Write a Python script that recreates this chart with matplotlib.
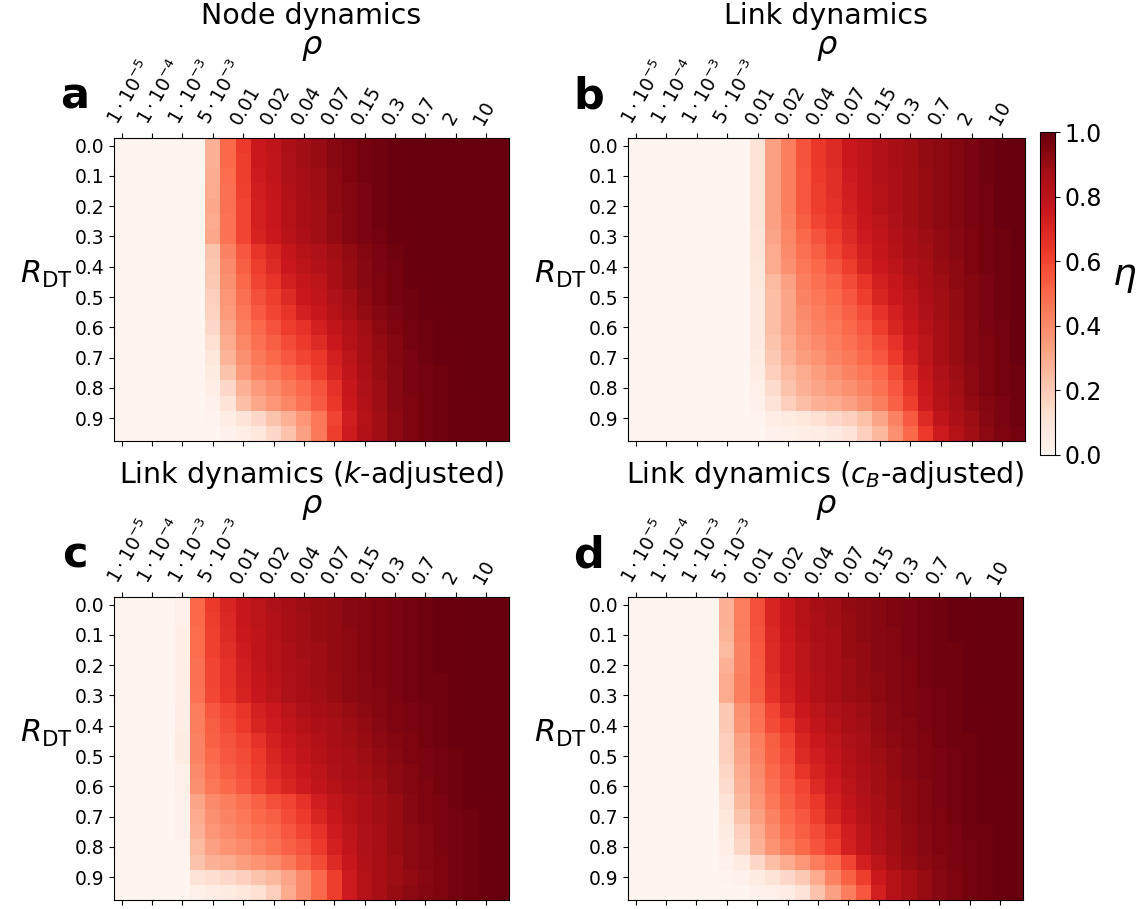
import numpy as np
import matplotlib
matplotlib.use("Agg")
import matplotlib.pyplot as plt

# =============================
# Data (eta, 20 R_DT rows x 26 rho columns)
# =============================

rho_labels = [r"$1\cdot10^{-5}$", r"$1\cdot10^{-4}$", r"$1\cdot10^{-3}$", r"$5\cdot10^{-3}$",
              "0.01", "0.02", "0.04", "0.07", "0.15", "0.3", "0.7", "2", "10"]
rdt_labels = ["0.0", "0.1", "0.2", "0.3", "0.4", "0.5", "0.6", "0.7", "0.8", "0.9"]

titles = ["Node dynamics", "Link dynamics",
          r"Link dynamics ($k$-adjusted)", r"Link dynamics ($c_B$-adjusted)"]
letters = ["a", "b", "c", "d"]

eta_node = [
    [0, 0, 0, 0, 0, 0, .28, .50, .63, .75, .79, .85, .88, .90, .93, .95, .97, .98, .99, 1, 1, 1, 1, 1, 1, 1],
    [0, 0, 0, 0, 0, 0, .28, .50, .62, .75, .78, .84, .88, .90, .93, .95, .97, .98, .99, 1, 1, 1, 1, 1, 1, 1],
    [0, 0, 0, 0, 0, 0, .29, .49, .62, .74, .78, .84, .87, .89, .92, .95, .97, .98, .99, 1, 1, 1, 1, 1, 1, 1],
    [0, 0, 0, 0, 0, 0, .30, .48, .61, .73, .77, .83, .87, .89, .92, .94, .96, .98, .99, 1, 1, 1, 1, 1, 1, 1],
    [0, 0, 0, 0, 0, 0, .31, .48, .60, .72, .76, .82, .86, .88, .92, .94, .96, .98, .99, 1, 1, 1, 1, 1, 1, 1],
    [0, 0, 0, 0, 0, 0, .30, .47, .60, .72, .76, .82, .86, .88, .91, .94, .96, .98, .99, .99, 1, 1, 1, 1, 1, 1],
    [0, 0, 0, 0, 0, 0, .31, .47, .60, .71, .75, .81, .85, .88, .91, .94, .96, .97, .99, .99, 1, 1, 1, 1, 1, 1],
    [0, 0, 0, 0, 0, 0, .22, .42, .55, .65, .70, .77, .82, .84, .88, .91, .94, .96, .98, .99, 1, 1, 1, 1, 1, 1],
    [0, 0, 0, 0, 0, 0, .21, .40, .53, .62, .68, .75, .80, .83, .87, .90, .93, .96, .97, .99, 1, 1, 1, 1, 1, 1],
    [0, 0, 0, 0, 0, 0, .20, .38, .50, .60, .65, .72, .77, .80, .86, .90, .93, .95, .97, .99, .99, 1, 1, 1, 1, 1],
    [0, 0, 0, 0, 0, 0, .18, .36, .48, .57, .62, .68, .75, .78, .84, .88, .92, .95, .97, .98, .99, 1, 1, 1, 1, 1],
    [0, 0, 0, 0, 0, 0, .17, .35, .46, .54, .60, .65, .72, .76, .82, .87, .91, .94, .96, .98, .99, .99, 1, 1, 1, 1],
    [0, 0, 0, 0, 0, 0, .15, .32, .43, .50, .56, .62, .66, .72, .78, .83, .88, .92, .95, .97, .98, .99, 1, 1, 1, 1],
    [0, 0, 0, 0, 0, 0, .12, .30, .41, .48, .53, .58, .63, .68, .75, .82, .87, .91, .94, .97, .98, .99, .99, 1, 1, 1],
    [0, 0, 0, 0, 0, 0, .08, .27, .38, .45, .50, .55, .60, .64, .72, .80, .86, .90, .94, .96, .98, .99, .99, 1, 1, 1],
    [0, 0, 0, 0, 0, 0, .06, .22, .35, .42, .46, .50, .55, .62, .70, .78, .85, .90, .93, .96, .97, .98, .99, 1, 1, 1],
    [0, 0, 0, 0, 0, 0, .04, .15, .28, .35, .40, .45, .50, .56, .66, .76, .84, .89, .93, .96, .97, .98, .99, 1, 1, 1],
    [0, 0, 0, 0, 0, 0, .02, .10, .24, .31, .36, .41, .47, .54, .64, .75, .83, .89, .93, .95, .97, .98, .99, .99, 1, 1],
    [0, 0, 0, 0, 0, 0, .01, .05, .10, .15, .22, .28, .36, .46, .60, .73, .82, .88, .92, .95, .97, .98, .99, .99, 1, 1],
    [0, 0, 0, 0, 0, 0, 0, .02, .04, .08, .15, .22, .33, .45, .62, .74, .83, .88, .92, .95, .97, .98, .99, .99, 1, 1],
]

eta_link = [
    [0, 0, 0, 0, 0, 0, 0, 0, .10, .33, .43, .56, .64, .68, .75, .79, .83, .86, .88, .91, .92, .94, .96, .98, .99, 1],
    [0, 0, 0, 0, 0, 0, 0, 0, .10, .33, .43, .56, .64, .68, .75, .79, .83, .86, .88, .91, .92, .94, .96, .98, .99, 1],
    [0, 0, 0, 0, 0, 0, 0, 0, .10, .33, .43, .55, .63, .67, .74, .78, .83, .85, .88, .90, .92, .94, .96, .98, .99, 1],
    [0, 0, 0, 0, 0, 0, 0, 0, .10, .33, .43, .55, .62, .67, .73, .78, .82, .85, .88, .90, .92, .94, .96, .97, .99, 1],
    [0, 0, 0, 0, 0, 0, 0, 0, .10, .33, .43, .55, .62, .66, .72, .77, .82, .85, .88, .90, .92, .94, .96, .97, .99, 1],
    [0, 0, 0, 0, 0, 0, 0, 0, .10, .33, .42, .53, .60, .65, .70, .76, .80, .84, .88, .90, .92, .94, .96, .97, .99, 1],
    [0, 0, 0, 0, 0, 0, 0, 0, .09, .32, .41, .50, .56, .62, .68, .74, .78, .83, .87, .89, .91, .93, .95, .97, .98, 1],
    [0, 0, 0, 0, 0, 0, 0, 0, .09, .30, .40, .48, .53, .60, .66, .72, .77, .82, .86, .88, .91, .93, .95, .97, .98, .99],
    [0, 0, 0, 0, 0, 0, 0, 0, .08, .30, .38, .46, .50, .56, .62, .70, .75, .80, .84, .87, .90, .92, .95, .97, .98, .99],
    [0, 0, 0, 0, 0, 0, 0, 0, .08, .25, .33, .43, .48, .52, .58, .65, .72, .77, .82, .86, .89, .92, .94, .96, .98, .99],
    [0, 0, 0, 0, 0, 0, 0, 0, .07, .24, .32, .42, .46, .50, .55, .62, .70, .75, .80, .85, .88, .91, .94, .96, .98, .99],
    [0, 0, 0, 0, 0, 0, 0, 0, .07, .24, .32, .40, .44, .48, .52, .58, .66, .72, .78, .84, .88, .91, .94, .96, .98, .99],
    [0, 0, 0, 0, 0, 0, 0, 0, .07, .24, .32, .38, .42, .46, .50, .55, .62, .70, .76, .82, .87, .90, .93, .96, .97, .99],
    [0, 0, 0, 0, 0, 0, 0, 0, .07, .22, .30, .36, .40, .44, .48, .52, .58, .66, .74, .80, .86, .90, .93, .95, .97, .99],
    [0, 0, 0, 0, 0, 0, 0, 0, .06, .20, .28, .34, .37, .42, .45, .50, .55, .63, .72, .80, .86, .90, .93, .95, .97, .99],
    [0, 0, 0, 0, 0, 0, 0, 0, .05, .18, .25, .30, .34, .38, .42, .46, .50, .58, .68, .77, .84, .89, .92, .95, .97, .98],
    [0, 0, 0, 0, 0, 0, 0, 0, .03, .14, .22, .28, .32, .35, .38, .42, .47, .55, .65, .75, .83, .88, .92, .95, .97, .98],
    [0, 0, 0, 0, 0, 0, 0, 0, .02, .10, .18, .24, .28, .30, .33, .38, .43, .52, .62, .74, .82, .87, .91, .94, .96, .98],
    [0, 0, 0, 0, 0, 0, 0, 0, .01, .04, .06, .08, .12, .15, .18, .23, .32, .42, .54, .68, .79, .85, .89, .93, .96, .98],
    [0, 0, 0, 0, 0, 0, 0, 0, 0, .02, .03, .04, .05, .07, .10, .18, .26, .38, .50, .63, .74, .82, .88, .92, .95, .97],
]

eta_link_k = [
    [0, 0, 0, 0, .03, .50, .63, .70, .76, .80, .84, .87, .89, .90, .91, .93, .94, .95, .96, .97, .98, .99, .99, 1, 1, 1],
    [0, 0, 0, 0, .03, .50, .62, .69, .76, .80, .83, .86, .88, .90, .91, .93, .94, .95, .96, .97, .98, .99, .99, 1, 1, 1],
    [0, 0, 0, 0, .04, .49, .61, .68, .75, .79, .83, .86, .88, .90, .91, .92, .94, .95, .96, .97, .98, .99, .99, 1, 1, 1],
    [0, 0, 0, 0, .04, .49, .61, .67, .74, .79, .82, .85, .88, .89, .91, .92, .94, .95, .96, .97, .98, .99, .99, 1, 1, 1],
    [0, 0, 0, 0, .04, .48, .60, .66, .73, .78, .82, .85, .87, .89, .91, .92, .94, .95, .96, .97, .98, .99, .99, 1, 1, 1],
    [0, 0, 0, 0, .04, .48, .60, .66, .72, .77, .81, .84, .87, .89, .90, .92, .93, .95, .96, .97, .98, .98, .99, 1, 1, 1],
    [0, 0, 0, 0, .04, .47, .59, .65, .71, .76, .80, .84, .86, .88, .90, .92, .93, .94, .96, .97, .98, .98, .99, 1, 1, 1],
    [0, 0, 0, 0, .05, .44, .55, .60, .65, .72, .75, .80, .84, .86, .88, .90, .92, .94, .95, .96, .97, .98, .99, 1, 1, 1],
    [0, 0, 0, 0, .05, .43, .53, .58, .63, .70, .74, .78, .82, .85, .87, .89, .91, .93, .95, .96, .97, .98, .99, .99, 1, 1],
    [0, 0, 0, 0, .06, .42, .52, .56, .60, .66, .72, .76, .80, .83, .86, .88, .90, .92, .94, .95, .97, .98, .99, .99, 1, 1],
    [0, 0, 0, 0, .06, .42, .50, .55, .58, .63, .70, .74, .78, .82, .85, .87, .89, .91, .93, .95, .96, .97, .98, .99, 1, 1],
    [0, 0, 0, 0, .03, .40, .48, .53, .57, .62, .68, .72, .76, .80, .84, .86, .88, .90, .92, .94, .96, .97, .98, .99, 1, 1],
    [0, 0, 0, 0, .03, .38, .46, .50, .55, .60, .66, .70, .74, .78, .82, .85, .87, .89, .92, .94, .95, .97, .98, .99, 1, 1],
    [0, 0, 0, 0, .02, .32, .40, .43, .48, .52, .57, .60, .66, .73, .78, .82, .85, .88, .90, .93, .95, .96, .98, .99, .99, 1],
    [0, 0, 0, 0, .02, .30, .38, .42, .46, .50, .53, .58, .63, .70, .76, .82, .85, .88, .90, .93, .95, .96, .97, .98, .99, 1],
    [0, 0, 0, 0, .02, .28, .36, .40, .43, .47, .50, .55, .60, .66, .74, .80, .84, .87, .90, .92, .94, .96, .97, .98, .99, 1],
    [0, 0, 0, 0, .01, .25, .33, .37, .40, .44, .48, .52, .56, .63, .72, .78, .84, .87, .90, .92, .94, .96, .97, .98, .99, 1],
    [0, 0, 0, 0, .01, .22, .28, .30, .34, .37, .40, .45, .52, .58, .68, .76, .83, .86, .89, .92, .94, .95, .97, .98, .99, 1],
    [0, 0, 0, 0, 0, .10, .13, .15, .18, .22, .26, .32, .40, .50, .62, .74, .82, .86, .89, .91, .93, .95, .97, .98, .99, 1],
    [0, 0, 0, 0, 0, .03, .05, .06, .08, .12, .18, .30, .40, .50, .62, .74, .82, .86, .90, .92, .94, .95, .97, .98, .99, 1],
]

eta_link_cb = [
    [0, 0, 0, 0, 0, 0, .28, .44, .57, .70, .76, .82, .86, .88, .91, .92, .93, .95, .96, .97, .98, .99, .99, 1, 1, 1],
    [0, 0, 0, 0, 0, 0, .28, .44, .57, .70, .76, .82, .85, .88, .90, .92, .93, .95, .96, .97, .98, .99, .99, 1, 1, 1],
    [0, 0, 0, 0, 0, 0, .27, .43, .56, .69, .75, .81, .85, .87, .90, .92, .93, .94, .96, .97, .98, .99, .99, 1, 1, 1],
    [0, 0, 0, 0, 0, 0, .25, .42, .55, .68, .74, .80, .84, .87, .90, .91, .93, .94, .96, .97, .98, .98, .99, 1, 1, 1],
    [0, 0, 0, 0, 0, 0, .28, .42, .54, .68, .74, .80, .84, .87, .89, .91, .93, .94, .95, .97, .98, .98, .99, 1, 1, 1],
    [0, 0, 0, 0, 0, 0, .30, .43, .54, .67, .73, .79, .83, .86, .89, .91, .92, .94, .95, .97, .98, .98, .99, 1, 1, 1],
    [0, 0, 0, 0, 0, 0, .30, .43, .53, .66, .72, .78, .83, .86, .89, .90, .92, .94, .95, .96, .97, .98, .99, 1, 1, 1],
    [0, 0, 0, 0, 0, 0, .20, .38, .48, .60, .68, .75, .80, .84, .87, .89, .91, .93, .95, .96, .97, .98, .99, .99, 1, 1],
    [0, 0, 0, 0, 0, 0, .20, .37, .47, .58, .64, .73, .78, .82, .86, .88, .91, .93, .94, .96, .97, .98, .99, .99, 1, 1],
    [0, 0, 0, 0, 0, 0, .18, .33, .43, .53, .60, .70, .75, .80, .84, .87, .90, .92, .94, .95, .97, .98, .98, .99, 1, 1],
    [0, 0, 0, 0, 0, 0, .18, .32, .42, .52, .58, .68, .73, .78, .83, .86, .89, .91, .93, .95, .96, .97, .98, .99, 1, 1],
    [0, 0, 0, 0, 0, 0, .16, .30, .40, .50, .56, .65, .71, .76, .82, .85, .88, .91, .93, .95, .96, .97, .98, .99, 1, 1],
    [0, 0, 0, 0, 0, 0, .14, .28, .38, .48, .54, .60, .68, .74, .80, .84, .88, .90, .92, .94, .96, .97, .98, .99, .99, 1],
    [0, 0, 0, 0, 0, 0, .10, .26, .36, .46, .52, .58, .64, .72, .78, .83, .87, .90, .92, .94, .96, .97, .98, .99, .99, 1],
    [0, 0, 0, 0, 0, 0, .08, .22, .33, .42, .50, .55, .62, .70, .76, .82, .86, .89, .92, .94, .95, .97, .98, .99, .99, 1],
    [0, 0, 0, 0, 0, 0, .06, .18, .30, .40, .47, .53, .58, .65, .73, .80, .85, .89, .91, .93, .95, .96, .98, .98, .99, 1],
    [0, 0, 0, 0, 0, 0, .04, .16, .28, .37, .44, .50, .56, .62, .72, .78, .84, .88, .91, .93, .95, .96, .97, .98, .99, 1],
    [0, 0, 0, 0, 0, 0, .02, .06, .15, .24, .30, .36, .44, .50, .60, .72, .80, .86, .90, .92, .94, .96, .97, .98, .99, 1],
    [0, 0, 0, 0, 0, 0, .01, .02, .06, .10, .15, .20, .30, .42, .52, .62, .75, .82, .86, .90, .93, .95, .97, .98, .99, 1],
    [0, 0, 0, 0, 0, 0, 0, 0, .02, .03, .05, .10, .22, .33, .43, .55, .72, .82, .86, .90, .93, .95, .97, .98, .99, 1],
]

panels = [eta_node, eta_link, eta_link_k, eta_link_cb]

# =============================
# Figure
# =============================

W, H = 1144, 909
fig = plt.figure(figsize=(W / 100, H / 100), dpi=100)


def px_axes(x0, y0, x1, y1):
    # pixel box (top-left origin) -> figure axes
    return fig.add_axes([x0 / W, 1 - y1 / H, (x1 - x0) / W, (y1 - y0) / H])


boxes = [(114, 138, 509, 441), (628, 138, 1025, 441),
         (114, 597, 509, 900), (628, 597, 1023, 900)]

for data, box, title, letter in zip(panels, boxes, titles, letters):
    ax = px_axes(*box)
    arr = np.array(data, dtype=float)
    im = ax.imshow(arr, cmap="Reds", vmin=0, vmax=1, aspect="auto",
                   interpolation="nearest")

    ax.set_xticks(np.arange(0, arr.shape[1], 2))
    ax.set_xticklabels(rho_labels, rotation=60, ha="left",
                       rotation_mode="anchor", fontsize=13.5)
    ax.tick_params(axis="x", top=True, labeltop=True,
                   bottom=True, labelbottom=False)
    ax.set_yticks(np.arange(0, arr.shape[0], 2))
    ax.set_yticklabels(rdt_labels, fontsize=13.5)

    ax.text(0.5, 1.376, title, transform=ax.transAxes,
            ha="center", va="baseline", fontsize=20.5)
    ax.text(0.5, 1.300, r"$\rho$", transform=ax.transAxes,
            ha="center", va="center", fontsize=23)
    ax.text(-0.099, 1.137, letter, transform=ax.transAxes,
            ha="center", va="center", fontsize=31, fontweight="bold")

    ax.set_ylabel(r"$R_{\mathrm{DT}}$", rotation=0, fontsize=22,
                  ha="center", va="center")
    ax.yaxis.set_label_coords(-0.17, 0.55)

# colorbar next to panel b
cax = px_axes(1040, 132, 1055, 455)
cbar = fig.colorbar(im, cax=cax)
cbar.set_ticks([0, 0.2, 0.4, 0.6, 0.8, 1.0])
cbar.ax.tick_params(labelsize=17)
cbar.set_label(r"$\eta$", rotation=0, fontsize=27, ha="center", va="center")
cbar.ax.yaxis.set_label_coords(5.6, 0.55)

fig.savefig("out.png", dpi=100)
